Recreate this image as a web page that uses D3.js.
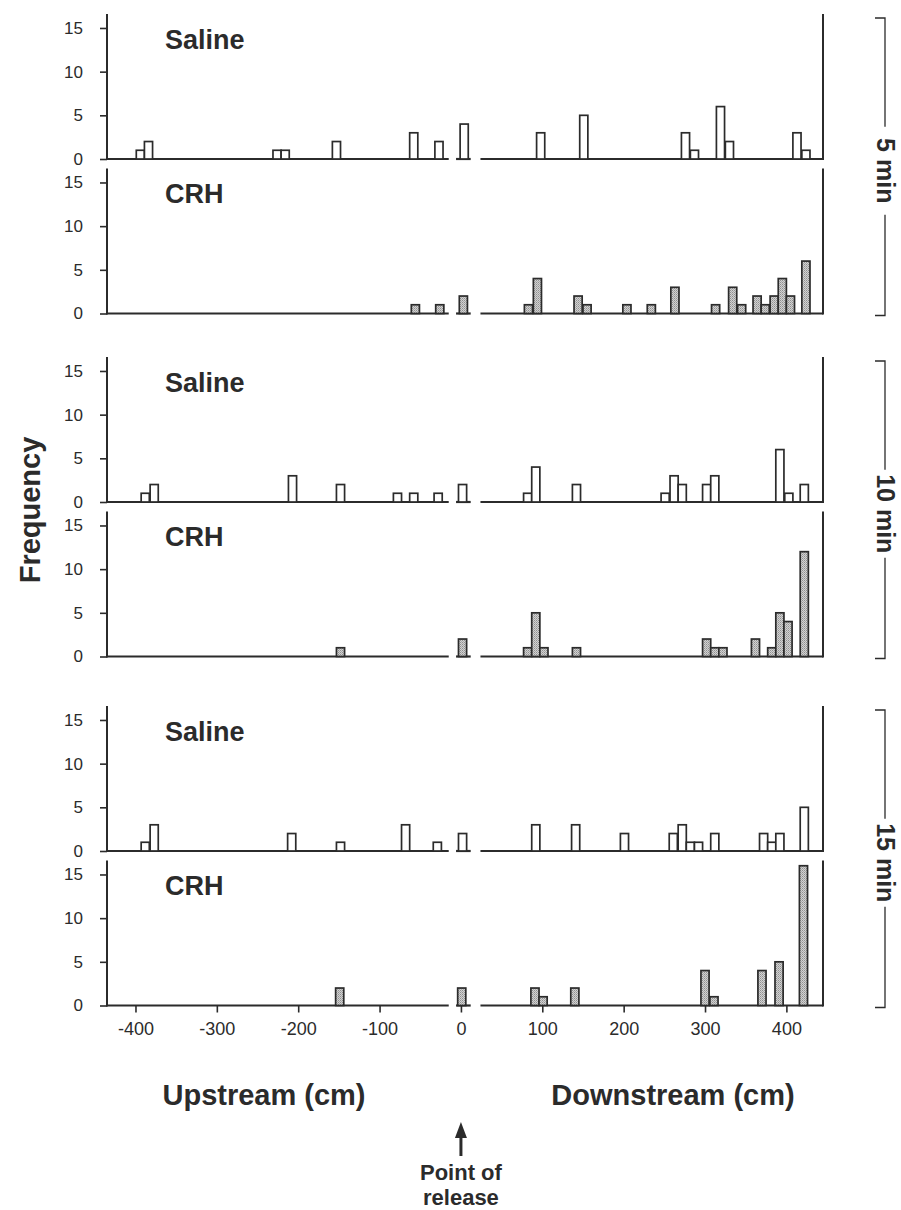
<!DOCTYPE html>
<html>
<head>
<meta charset="utf-8">
<script src="https://cdn.jsdelivr.net/npm/d3@7"></script>
<style>
  body { margin: 0; background: #fff; }
  text { font-family: "Liberation Sans", Arial, Helvetica, sans-serif; fill: #2b2b2b; }
</style>
</head>
<body>
<div id="chart"></div>
<script>
var width = 901,
    height = 1210;

// bin centres (cm from point of release) and counts
var saline5Pos = [-394, -384, -226, -216, -153, -58, -27, 4, 98, 151, 276, 287, 319, 330, 413, 424];
var saline5Cnt = [1, 2, 1, 1, 2, 3, 2, 4, 3, 5, 3, 1, 6, 2, 3, 1];

var crh5Pos = [-56, -26, 3, 83, 94, 144, 155, 204, 234, 263, 313, 334, 345, 364, 374, 385, 395, 405, 424];
var crh5Cnt = [1, 1, 2, 1, 4, 2, 1, 1, 1, 3, 1, 3, 1, 2, 1, 2, 4, 2, 6];

var saline10Pos = [-388, -377, -207, -148, -78, -58, -28, 2, 82, 92, 142, 251, 262, 272, 302, 312, 392, 403, 422];
var saline10Cnt = [1, 2, 3, 2, 1, 1, 1, 2, 1, 4, 2, 1, 3, 2, 2, 3, 6, 1, 2];

var crh10Pos = [-148, 2, 82, 92, 102, 142, 302, 312, 322, 362, 382, 392, 402, 422];
var crh10Cnt = [1, 2, 1, 5, 1, 1, 2, 1, 1, 2, 1, 5, 4, 12];

var saline15Pos = [-388, -377, -208, -148, -68, -29, 2, 92, 141, 201, 261, 272, 282, 292, 312, 372, 382, 392, 422];
var saline15Cnt = [1, 3, 2, 1, 3, 1, 2, 3, 3, 2, 2, 3, 1, 1, 2, 2, 1, 2, 5];

var crh15Pos = [-149, 1, 91, 101, 140, 300, 311, 370, 391, 421];
var crh15Cnt = [2, 2, 2, 1, 2, 4, 1, 4, 5, 16];

var timeLabels = ["5 min", "10 min", "15 min"];
var yTicks = [0, 5, 10, 15];
var xTicks = [-400, -300, -200, -100, 0, 100, 200, 300, 400];

var panels = [
  {name: "Saline", pos: saline5Pos, cnt: saline5Cnt},
  {name: "CRH", pos: crh5Pos, cnt: crh5Cnt},
  {name: "Saline", pos: saline10Pos, cnt: saline10Cnt},
  {name: "CRH", pos: crh10Pos, cnt: crh10Cnt},
  {name: "Saline", pos: saline15Pos, cnt: saline15Cnt},
  {name: "CRH", pos: crh15Pos, cnt: crh15Cnt}
];

var ink = "#2b2b2b";
var binWidth = 10;

var svg = d3.select("#chart")
    .append("svg")
    .attr("width", width)
    .attr("height", height);

// stippled grey for the CRH bars
var pat = svg.append("defs").append("pattern")
    .attr("id", "stipple")
    .attr("patternUnits", "userSpaceOnUse")
    .attr("width", 2)
    .attr("height", 2);
pat.append("rect").attr("width", 2).attr("height", 2).attr("fill", "#d2d2d2");
pat.append("rect").attr("width", 1).attr("height", 1).attr("fill", "#909090");
pat.append("rect").attr("x", 1).attr("y", 1).attr("width", 1).attr("height", 1).attr("fill", "#aaaaaa");

var x = d3.scaleLinear()
    .domain([-435, 445])
    .range([107, 823]);

var groupTop = [14, 357, 706],
    panelH = 145,
    innerGap = 9.5;

function drawPanel(p, i) {
  var top = groupTop[Math.floor(i / 2)] + (i % 2) * (panelH + innerGap);
  var base = top + panelH;

  var y = d3.scaleLinear()
      .domain([0, 16.6])
      .range([base, top]);

  var g = svg.append("g").attr("class", "panel");

  // left y axis
  var yAxis = d3.axisLeft(y).tickValues(yTicks).tickSize(7).tickPadding(17);
  var ya = g.append("g")
      .attr("transform", "translate(" + x(-435) + ",0)")
      .call(yAxis);
  ya.select(".domain").remove();
  ya.selectAll("line").attr("stroke", ink).attr("stroke-width", 1.6);
  ya.selectAll("text").style("font-size", "17px").attr("fill", ink);

  g.append("line")
      .attr("x1", x(-435)).attr("x2", x(-435))
      .attr("y1", top).attr("y2", base + 1)
      .attr("stroke", ink).attr("stroke-width", 2);

  // right border
  g.append("line")
      .attr("x1", x(445)).attr("x2", x(445))
      .attr("y1", top).attr("y2", base + 1)
      .attr("stroke", ink).attr("stroke-width", 2);

  // broken baseline around the release point
  var segs = [[-435, -15], [-6, 12], [24, 445]];
  g.selectAll("line.base")
      .data(segs)
      .enter()
      .append("line")
      .attr("class", "base")
      .attr("x1", function(d) { return x(d[0]); })
      .attr("x2", function(d) { return x(d[1]); })
      .attr("y1", base).attr("y2", base)
      .attr("stroke", ink).attr("stroke-width", 2.2);

  var bars = p.pos.map(function(v, k) { return {pos: v, n: p.cnt[k]}; });

  g.selectAll("rect.bar")
      .data(bars)
      .enter()
      .append("rect")
      .attr("class", "bar")
      .attr("x", function(d) { return x(d.pos - binWidth / 2); })
      .attr("width", function(d) { return x(d.pos + binWidth / 2) - x(d.pos - binWidth / 2); })
      .attr("y", function(d) { return y(d.n); })
      .attr("height", function(d) { return base - y(d.n); })
      .attr("fill", p.name == "CRH" ? "url(#stipple)" : "#fff")
      .attr("stroke", ink)
      .attr("stroke-width", 1.7);

  g.append("text")
      .attr("x", 165)
      .attr("y", top + 34.5)
      .style("font-size", "27px")
      .style("font-weight", "bold")
      .text(p.name);

  // x axis only under the last panel
  if (i == panels.length - 1) {
    var xa = g.append("g")
        .attr("transform", "translate(0," + base + ")")
        .call(d3.axisBottom(x).tickValues(xTicks).tickSize(7).tickPadding(10)
          .tickFormat(function(d) { return String(d); }));
    xa.select(".domain").remove();
    xa.selectAll("line").attr("stroke", ink).attr("stroke-width", 1.6);
    xa.selectAll("text").style("font-size", "18px").attr("fill", ink);
  }
}

panels.forEach(drawPanel);

// time brackets on the right
timeLabels.forEach(function(t, k) {
  var y0 = groupTop[k] + 4,
      y1 = groupTop[k] + 2 * panelH + innerGap + 2,
      mid = (y0 + y1) / 2 + 4,
      bx = 885,
      half = 44;

  var b = svg.append("g");
  b.append("path")
      .attr("d", "M" + (bx - 10) + "," + y0 + "H" + bx + "V" + (mid - half))
      .attr("fill", "none").attr("stroke", ink).attr("stroke-width", 1.3);
  b.append("path")
      .attr("d", "M" + bx + "," + (mid + half) + "V" + y1 + "H" + (bx - 10))
      .attr("fill", "none").attr("stroke", ink).attr("stroke-width", 1.3);
  b.append("text")
      .attr("transform", "translate(" + (bx + 1) + "," + mid + ") rotate(90)")
      .attr("text-anchor", "middle")
      .attr("dominant-baseline", "central")
      .style("font-size", "25px")
      .style("font-weight", "bold")
      .text(t);
});

svg.append("text")
    .attr("transform", "translate(30," + 510 + ") rotate(-90)")
    .attr("text-anchor", "middle")
    .attr("dominant-baseline", "central")
    .style("font-size", "29px")
    .style("font-weight", "bold")
    .text("Frequency");

svg.append("text")
    .attr("x", 264).attr("y", 1105)
    .attr("text-anchor", "middle")
    .style("font-size", "29px").style("font-weight", "bold")
    .text("Upstream (cm)");

svg.append("text")
    .attr("x", 673).attr("y", 1105)
    .attr("text-anchor", "middle")
    .style("font-size", "29px").style("font-weight", "bold")
    .text("Downstream (cm)");

// arrow to the point of release
svg.append("line")
    .attr("x1", x(0)).attr("x2", x(0))
    .attr("y1", 1156).attr("y2", 1134)
    .attr("stroke", ink).attr("stroke-width", 3);
svg.append("path")
    .attr("d", "M" + (x(0) - 6) + ",1138 L" + x(0) + ",1122 L" + (x(0) + 6) + ",1138 Z")
    .attr("fill", ink);

svg.append("text")
    .attr("x", x(0)).attr("y", 1180)
    .attr("text-anchor", "middle")
    .style("font-size", "22px").style("font-weight", "bold")
    .text("Point of");
svg.append("text")
    .attr("x", x(0)).attr("y", 1205)
    .attr("text-anchor", "middle")
    .style("font-size", "22px").style("font-weight", "bold")
    .text("release");
</script>
</body>
</html>
